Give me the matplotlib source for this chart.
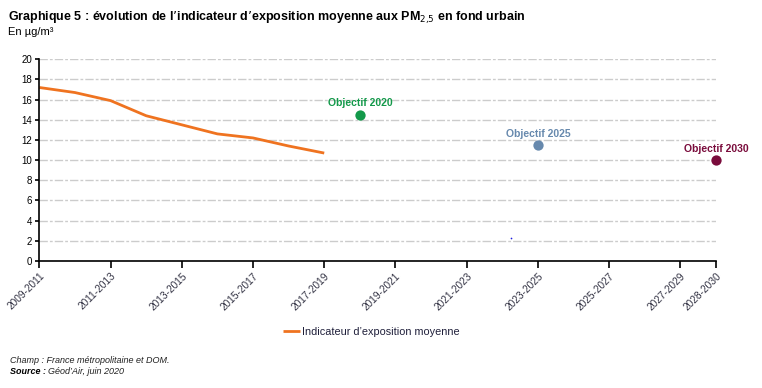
import matplotlib

matplotlib.use("Agg")
import matplotlib.pyplot as plt

plt.rcParams["font.family"] = ["Liberation Sans", "DejaVu Sans"]

# x categories (one per year; only every other one is labelled)
periods = ["2009-2011", "2010-2012", "2011-2013", "2012-2014", "2013-2015",
           "2014-2016", "2015-2017", "2016-2018", "2017-2019", "2018-2020",
           "2019-2021", "2020-2022", "2021-2023", "2022-2024", "2023-2025",
           "2024-2026", "2025-2027", "2026-2028", "2027-2029", "2028-2030"]
tick_labels = ["2009-2011", "2011-2013", "2013-2015", "2015-2017", "2017-2019",
               "2019-2021", "2021-2023", "2023-2025", "2025-2027", "2027-2029",
               "2028-2030"]

# observed indicator, one value per period from 2009-2011 to 2017-2019
indicator = [17.2, 16.7, 15.9, 14.4, 13.5, 12.6, 12.2, 11.4, 10.7]

# objectives
obj_names = ["Objectif 2020", "Objectif 2025", "Objectif 2030"]
obj_idx = [9, 14, 19]
obj_values = [14.5, 11.5, 10.0]
obj_colors = ["#13994a", "#6789ad", "#7a0c3c"]

# stray blue dot visible in the source
stray_idx = [13.25]
stray_val = [2.3]

fig = plt.figure(figsize=(7.62, 3.88), dpi=100)
ax = fig.add_axes([0.0516, 0.3273, 0.888, 0.52])

ax.plot(range(len(indicator)), indicator, color="#ef7320", lw=2.0,
        solid_capstyle="butt", label="Indicateur d\u2019exposition moyenne")

for name, i, v, c in zip(obj_names, obj_idx, obj_values, obj_colors):
    ax.scatter([i], [v], s=55, color=c, zorder=4, linewidths=0, clip_on=False)
    ax.annotate(name, (i, v), xytext=(0, 4.5), textcoords="offset points",
                ha="center", va="bottom", color=c, fontsize=7.5,
                fontweight="bold", annotation_clip=False)

ax.scatter(stray_idx, stray_val, s=1.5, color="#2020e0", linewidths=0)

ax.set_xlim(0, len(periods) - 1)
ax.set_ylim(0, 20)
ax.set_yticks(range(0, 21, 2))
ax.tick_params(axis="y", labelsize=7, length=3, width=1.2, pad=2)
ticks = [periods.index(t) for t in tick_labels]
ax.set_xticks(ticks)
ax.set_xticklabels(tick_labels, rotation=45, ha="right", rotation_mode="anchor",
                   fontsize=7.3, color="#333344")
ax.tick_params(axis="x", length=5, width=1.2, pad=2)

ax.grid(axis="y", color="#cccccc", lw=1.0, linestyle=(0, (6, 1.5, 2, 1.5)))
ax.set_axisbelow(True)
for s in ["top", "right"]:
    ax.spines[s].set_visible(False)
for s in ["left", "bottom"]:
    ax.spines[s].set_linewidth(1.2)
    ax.spines[s].set_color("black")

leg = fig.legend(loc="center", bbox_to_anchor=(0.487, 0.144), frameon=False,
                 fontsize=7.8, handlelength=1.6, handletextpad=0.2)
for t in leg.get_texts():
    t.set_color("#1f1f3a")

fig.text(0.011, 0.955, "Graphique 5 : \u00e9volution de l\u2019indicateur d\u2019exposition moyenne aux PM$_{2{,}5}$ en fond urbain",
         fontsize=9, fontweight="bold", va="center", ha="left")
fig.text(0.011, 0.918, "En \u00b5g/m\u00b3", fontsize=8, va="center", ha="left")
fig.text(0.013, 0.072, "Champ : France m\u00e9tropolitaine et DOM.", fontsize=6.5,
         style="italic", va="center", ha="left", color="#222222")
src = fig.text(0.013, 0.043, "Source :", fontsize=6.5, style="italic",
               fontweight="bold", va="center", ha="left")
fig.canvas.draw()
bb = src.get_window_extent().transformed(fig.transFigure.inverted())
fig.text(bb.x1 + 0.003, 0.043, "G\u00e9od\u2019Air, juin 2020", fontsize=6.5,
         style="italic", va="center", ha="left", color="#222222")

fig.savefig("out.png", dpi=100)
